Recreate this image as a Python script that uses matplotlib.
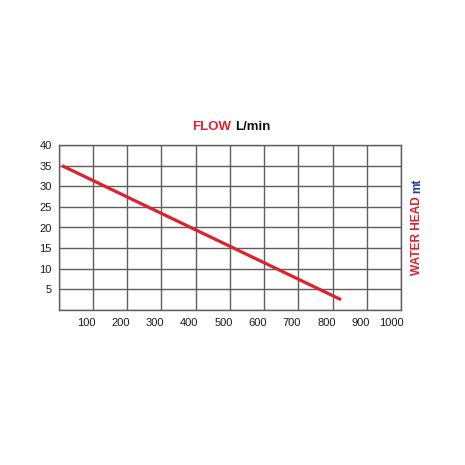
import matplotlib
matplotlib.use('Agg')
import matplotlib.pyplot as plt
import matplotlib.transforms as mtransforms

# Data
flow = [10, 825]
head = [35, 2.5]
x_ticks = [0, 100, 200, 300, 400, 500, 600, 700, 800, 900, 1000]
x_labels = ['', '100', '200', '300', '400', '500', '600', '700', '800', '900', '1000']
y_ticks = [0, 5, 10, 15, 20, 25, 30, 35, 40]
y_labels = ['', '5', '10', '15', '20', '25', '30', '35', '40']

plt.rcParams['font.family'] = ['Liberation Sans', 'DejaVu Sans']

W = H = 465
fig = plt.figure(figsize=(W / 100, H / 100), dpi=100)
fig.patch.set_facecolor('white')

left, right, top, bottom = 58.5, 401, 145, 310
ax = fig.add_axes([left / W, (H - bottom) / H, (right - left) / W, (bottom - top) / H])
ax.set_xlim(0, 1000)
ax.set_ylim(0, 40)
ax.set_xticks(x_ticks)
ax.set_yticks(y_ticks)
ax.set_xticklabels(x_labels, fontsize=8, color='#1a1a1a', ha='right')
ax.set_yticklabels(y_labels, fontsize=8, color='#1a1a1a')
ax.tick_params(length=0)
ax.tick_params(axis='x', pad=6)
ax.tick_params(axis='y', pad=5)
offset = mtransforms.ScaledTranslation(3 / 100, 0, fig.dpi_scale_trans)
for lbl in ax.get_xticklabels():
    lbl.set_transform(lbl.get_transform() + offset)

ax.grid(True, color='#5e5e5e', linewidth=1.0)
ax.set_axisbelow(True)
for s in ax.spines.values():
    s.set_color('#5e5e5e')
    s.set_linewidth(1.0)

ax.plot(flow, head, color='#e0202e', linewidth=2.3, solid_capstyle='butt', zorder=3)

# Title: FLOW (red) L/min (black)
fig.text(231 / W, 1 - 127 / H, 'FLOW', color='#e0202e', fontsize=9.5, fontweight='bold',
         ha='right', va='center')
fig.text(235 / W, 1 - 127 / H, 'L/min', color='#111111', fontsize=9.5, fontweight='bold',
         ha='left', va='center')

# Right label: WATER HEAD (red) mt (blue), rotated
fig.text(417 / W, 1 - 275 / H, 'WATER HEAD', color='#e0202e', fontsize=8.6, fontweight='bold',
         rotation=90, rotation_mode='anchor', ha='left', va='center')
fig.text(417 / W, 1 - 193 / H, 'mt', color='#1f3f99', fontsize=8.6, fontweight='bold',
         rotation=90, rotation_mode='anchor', ha='left', va='center')

fig.savefig('out.png', dpi=100, facecolor='white')
